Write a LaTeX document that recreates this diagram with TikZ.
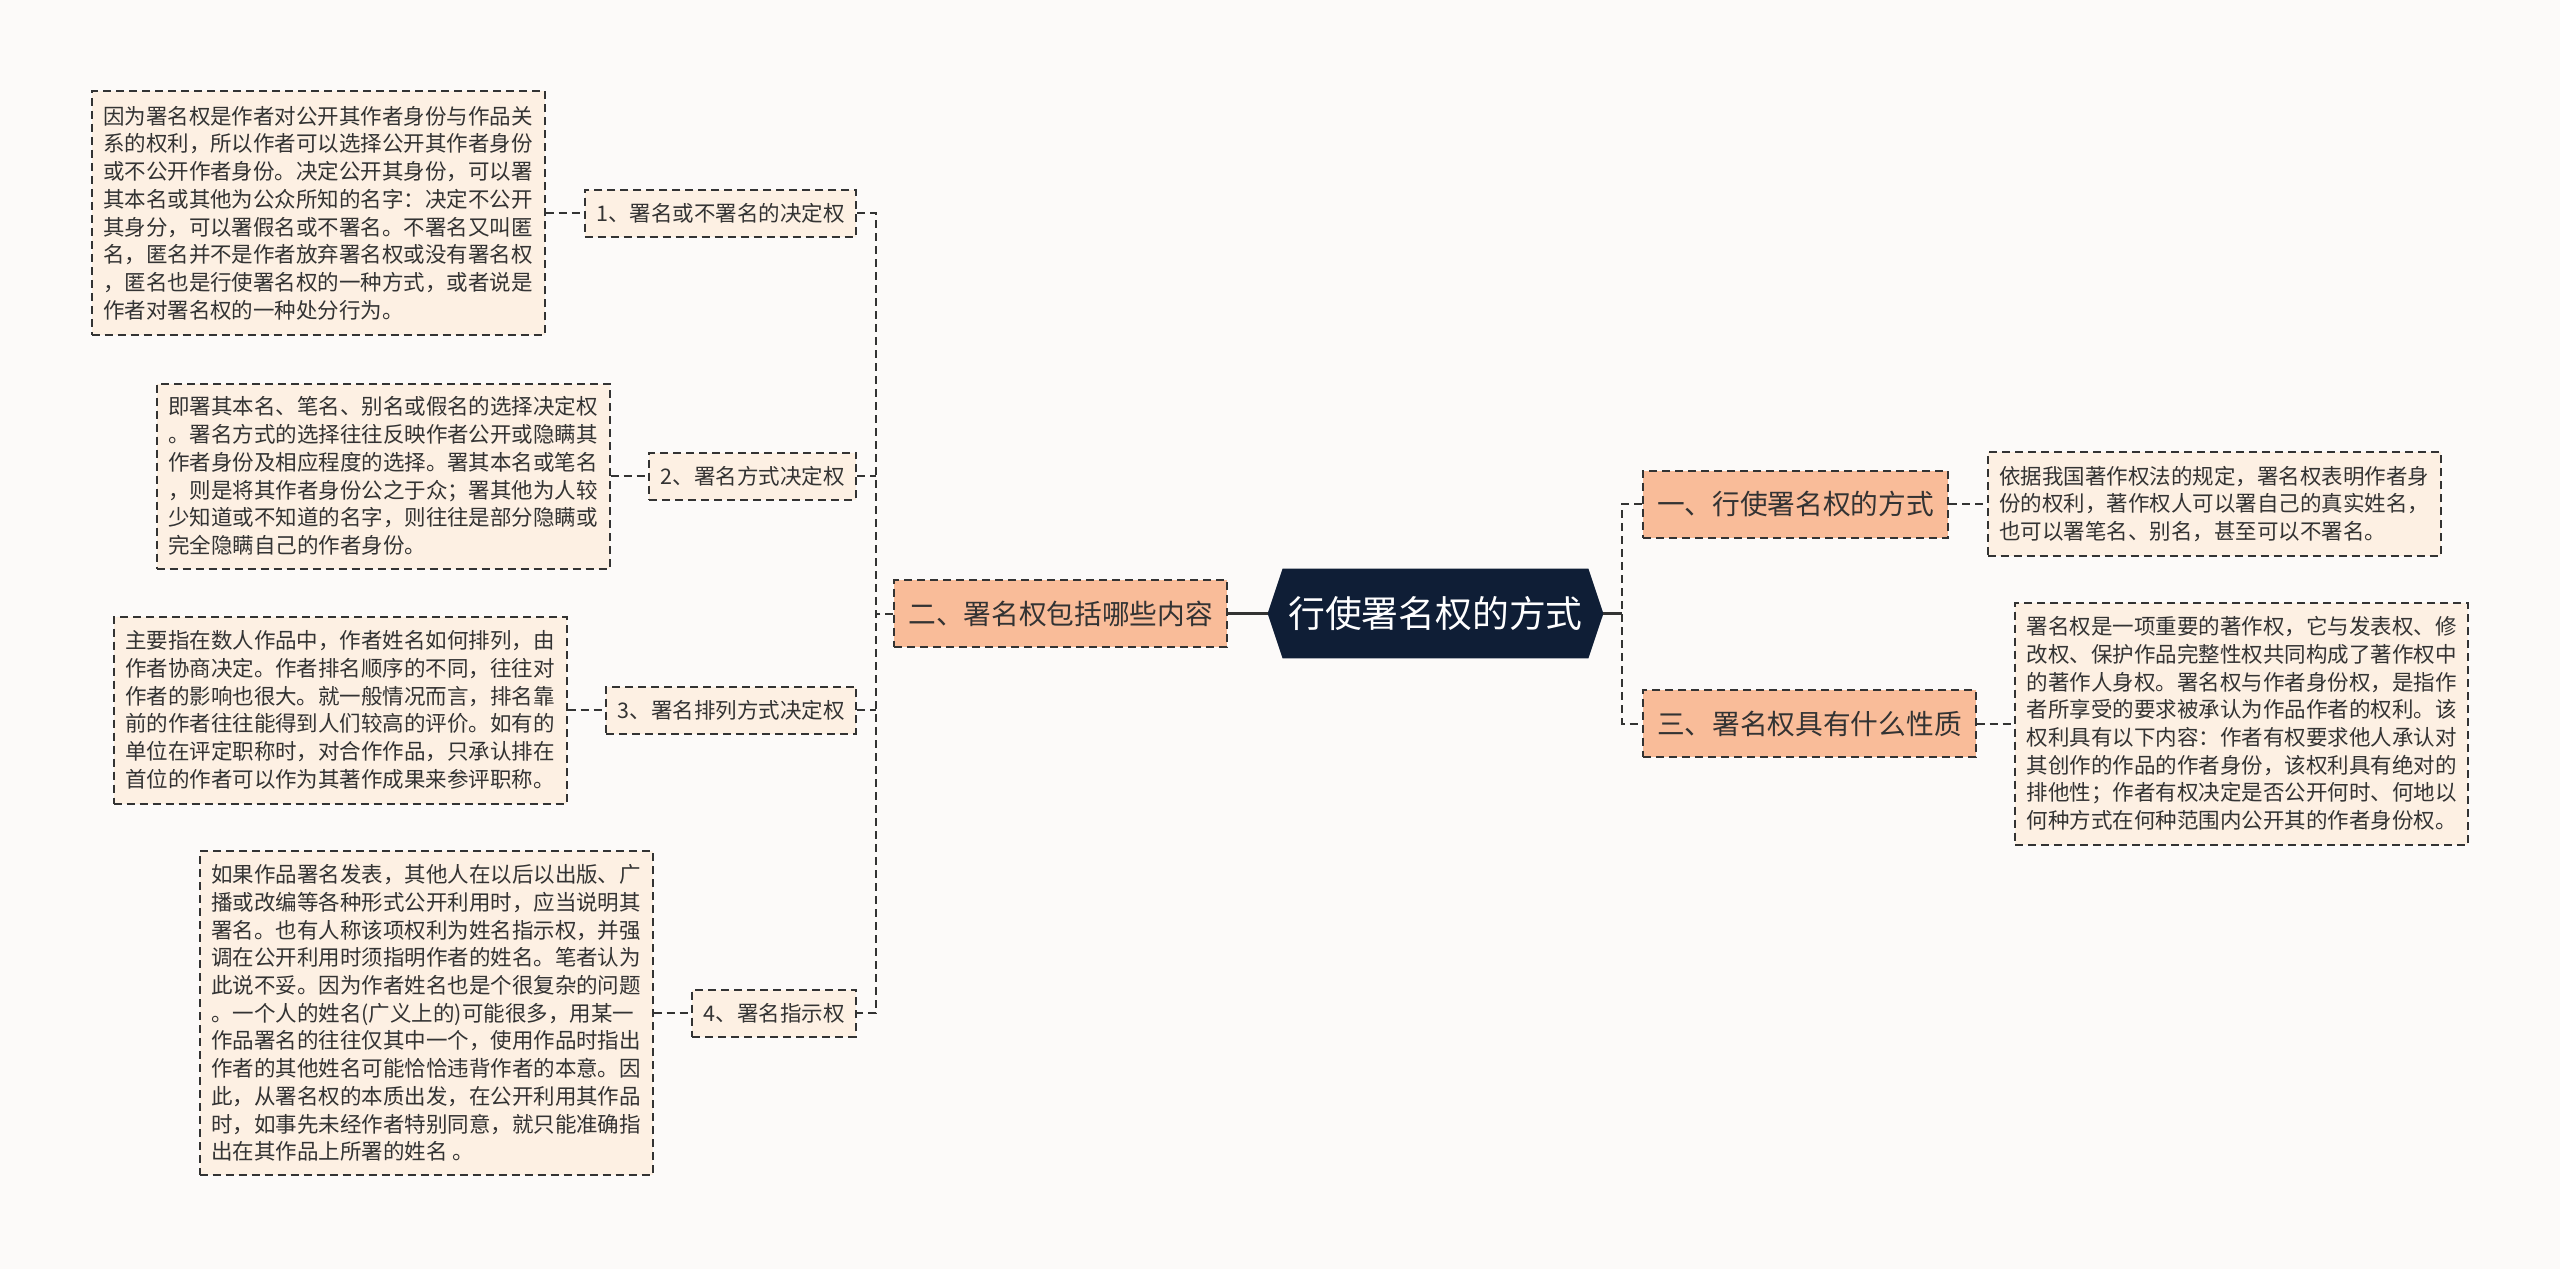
\documentclass[tikz,border=0pt]{standalone}
\usepackage{fontspec}
\setmainfont{Noto Sans CJK SC}
\pgfdeclarelayer{background}
\pgfsetlayers{background,main}
\definecolor{bgc}{HTML}{FCFAF9}
\definecolor{rootc}{HTML}{0F1E36}
\definecolor{mainc}{HTML}{F9BC99}
\definecolor{leafc}{HTML}{FDF0E3}
\definecolor{linec}{HTML}{333333}
\definecolor{txtc}{HTML}{333333}
\begin{document}
\begin{tikzpicture}[x=0.5pt,y=-0.5pt,
  dashline/.style={draw=linec,line width=1pt,dash pattern=on 4pt off 2.5pt},
  solidline/.style={draw=linec,line width=1.3pt},
  leafbox/.style={dashline,fill=leafc,text=txtc,align=left,inner sep=0pt,minimum width=226.5pt,font=\fontsize{10.75pt}{13.85pt}\selectfont},
  subbox/.style={dashline,fill=leafc,text=txtc,inner xsep=5.75pt,inner ysep=0pt,minimum height=23.5pt,font=\fontsize{10.75pt}{13pt}\selectfont},
  mainbox/.style={dashline,fill=mainc,text=txtc,inner xsep=7pt,inner ysep=0pt,minimum height=33.5pt,font=\fontsize{13.85pt}{16pt}\selectfont},
  roottext/.style={text=white,inner sep=0pt,minimum width=167.5pt,minimum height=44.5pt,font=\fontsize{18.4pt}{22pt}\selectfont}]
\begin{pgfonlayer}{background}
\fill[bgc] (0,0) rectangle (2560,1269);
\end{pgfonlayer}
\useasboundingbox (0,0) rectangle (2560,1269);

% root
\node[roottext] (root) at (1435.5,613.5) {行使署名权的方式};
\begin{pgfonlayer}{background}
\fill[rootc] (root.west) -- ([xshift=7.5pt]root.north west) -- ([xshift=-7.5pt]root.north east) -- (root.east) -- ([xshift=-7.5pt]root.south east) -- ([xshift=7.5pt]root.south west) -- cycle;
\end{pgfonlayer}

% main branches
\node[mainbox,anchor=east] (b2) at (1228,613.5) {二、署名权包括哪些内容};
\node[mainbox,anchor=west] (b1) at (1642,504) {一、行使署名权的方式};
\node[mainbox,anchor=west] (b3) at (1642,723.5) {三、署名权具有什么性质};

% sub items
\node[subbox,anchor=east] (s1) at (857,213) {1、署名或不署名的决定权};
\node[subbox,anchor=east] (s2) at (857,476) {2、署名方式决定权};
\node[subbox,anchor=east] (s3) at (857,710) {3、署名排列方式决定权};
\node[subbox,anchor=east] (s4) at (857,1013) {4、署名指示权};

% left leaves
\node[leafbox,minimum height=122pt] (l1) at (318,213) {因为署名权是作者对公开其作者身份与作品关\\系的权利，所以作者可以选择公开其作者身份\\或不公开作者身份。决定公开其身份，可以署\\其本名或其他为公众所知的名字：决定不公开\\其身分，可以署假名或不署名。不署名又叫匿\\名，匿名并不是作者放弃署名权或没有署名权\\，匿名也是行使署名权的一种方式，或者说是\\作者对署名权的一种处分行为。};
\node[leafbox,minimum height=92.5pt] (l2) at (383,476) {即署其本名、笔名、别名或假名的选择决定权\\。署名方式的选择往往反映作者公开或隐瞒其\\作者身份及相应程度的选择。署其本名或笔名\\，则是将其作者身份公之于众；署其他为人较\\少知道或不知道的名字，则往往是部分隐瞒或\\完全隐瞒自己的作者身份。};
\node[leafbox,minimum height=93.5pt] (l3) at (340,710) {主要指在数人作品中，作者姓名如何排列，由\\作者协商决定。作者排名顺序的不同，往往对\\作者的影响也很大。就一般情况而言，排名靠\\前的作者往往能得到人们较高的评价。如有的\\单位在评定职称时，对合作作品，只承认排在\\首位的作者可以作为其著作成果来参评职称。};
\node[leafbox,minimum height=162pt] (l4) at (426,1013) {如果作品署名发表，其他人在以后以出版、广\\播或改编等各种形式公开利用时，应当说明其\\署名。也有人称该项权利为姓名指示权，并强\\调在公开利用时须指明作者的姓名。笔者认为\\此说不妥。因为作者姓名也是个很复杂的问题\\。一个人的姓名(广义上的)可能很多，用某一\\作品署名的往往仅其中一个，使用作品时指出\\作者的其他姓名可能恰恰违背作者的本意。因\\此，从署名权的本质出发，在公开利用其作品\\时，如事先未经作者特别同意，就只能准确指\\出在其作品上所署的姓名 。};

% right leaves
\node[leafbox,minimum height=52pt] (r1) at (2214,504) {依据我国著作权法的规定，署名权表明作者身\\份的权利，著作权人可以署自己的真实姓名，\\也可以署笔名、别名，甚至可以不署名。};
\node[leafbox,minimum height=121pt] (r3) at (2241.5,723.5) {署名权是一项重要的著作权，它与发表权、修\\改权、保护作品完整性权共同构成了著作权中\\的著作人身权。署名权与作者身份权，是指作\\者所享受的要求被承认为作品作者的权利。该\\权利具有以下内容：作者有权要求他人承认对\\其创作的作品的作者身份，该权利具有绝对的\\排他性；作者有权决定是否公开何时、何地以\\何种方式在何种范围内公开其的作者身份权。};

% trunks
\coordinate (trL) at (876,613.5);
\coordinate (trR) at (1622,613.5);

% connectors
\draw[solidline] (b2.east) -- (root.west);
\draw[solidline] (root.east) -- (trR);
\draw[dashline] (b1.west) -- (b1.west -| trR) -- (b3.west -| trR) -- (b3.west);
\draw[dashline] (b2.west) -- (trL);
\draw[dashline] (s1.east) -- (s1.east -| trL) -- (s4.east -| trL) -- (s4.east);
\draw[dashline] (s2.east) -- (s2.east -| trL);
\draw[dashline] (s3.east) -- (s3.east -| trL);
\draw[dashline] (l1.east) -- (s1.west);
\draw[dashline] (l2.east) -- (s2.west);
\draw[dashline] (l3.east) -- (s3.west);
\draw[dashline] (l4.east) -- (s4.west);
\draw[dashline] (b1.east) -- (r1.west);
\draw[dashline] (b3.east) -- (r3.west);
\end{tikzpicture}
\end{document}
